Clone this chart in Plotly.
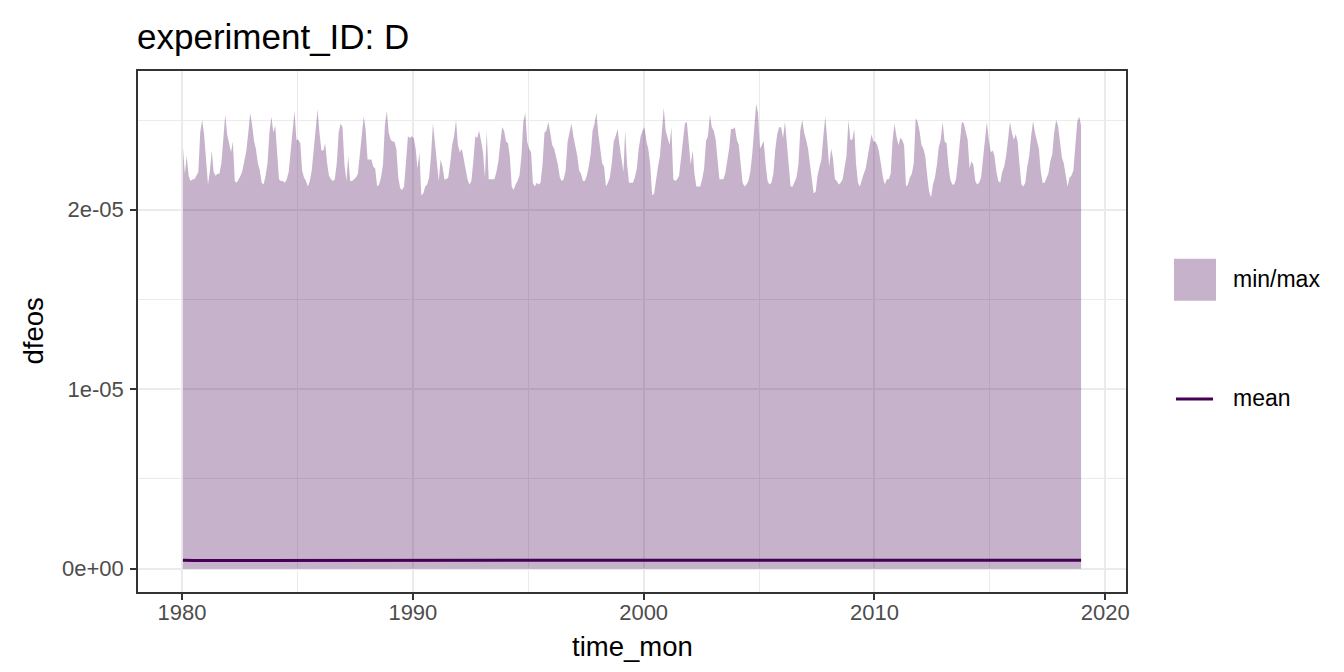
import pandas as pd
import plotly.graph_objects as go

# ---------------- data ----------------
years = list(range(1980, 2019))

# monthly maximum of dfeos, units of 1e-6, one row per year (Jan..Dec)
max_e6 = [
    [23.5, 22.0, 23.0, 21.9, 21.6, 21.7, 21.7, 21.9, 22.1, 24.3, 25.0, 24.2],  # 1980
    [22.5, 21.4, 22.1, 23.3, 22.1, 21.9, 22.0, 22.0, 22.6, 24.0, 25.3, 24.2],  # 1981
    [23.6, 23.2, 23.8, 21.6, 21.5, 21.7, 21.9, 22.2, 22.7, 23.3, 24.3, 25.4],  # 1982
    [24.7, 23.8, 23.4, 22.6, 22.2, 21.5, 21.4, 21.9, 22.6, 24.3, 25.2, 24.3],  # 1983
    [24.7, 23.0, 21.7, 21.6, 21.6, 21.5, 21.7, 22.1, 23.2, 24.1, 25.5, 23.9],  # 1984
    [23.9, 23.7, 22.2, 21.8, 21.6, 21.3, 21.6, 22.2, 23.4, 24.5, 25.6, 24.3],  # 1985
    [23.3, 23.3, 23.7, 22.6, 21.9, 21.7, 21.6, 21.7, 22.6, 24.3, 24.8, 24.6],  # 1986
    [22.5, 21.6, 23.0, 21.6, 21.6, 21.7, 21.8, 22.0, 23.1, 24.5, 25.2, 24.5],  # 1987
    [22.8, 22.8, 22.8, 22.4, 22.3, 21.3, 21.4, 21.8, 22.5, 24.7, 25.5, 24.3],  # 1988
    [23.9, 23.8, 23.8, 23.4, 21.8, 21.2, 21.1, 21.3, 22.5, 24.1, 24.0, 24.1],  # 1989
    [24.0, 23.4, 22.3, 23.2, 20.8, 20.9, 21.3, 21.4, 21.8, 23.0, 24.8, 23.6],  # 1990
    [22.7, 21.6, 22.8, 22.4, 21.7, 21.7, 21.8, 22.6, 23.6, 24.1, 25.0, 23.6],  # 1991
    [23.2, 23.4, 22.8, 22.3, 21.7, 21.4, 21.6, 22.7, 24.1, 24.0, 24.4, 23.85], # 1992
    [23.2, 21.8, 24.4, 21.7, 21.7, 21.7, 21.7, 22.1, 22.7, 23.7, 24.6, 24.4],  # 1993
    [23.8, 23.7, 23.0, 21.3, 21.1, 21.4, 21.6, 21.9, 23.0, 24.9, 25.4, 23.8],  # 1994
    [23.4, 23.2, 21.5, 21.3, 21.5, 21.4, 21.5, 22.5, 24.3, 24.4, 24.9, 24.3],  # 1995
    [23.6, 23.4, 23.0, 22.5, 21.8, 21.6, 21.7, 22.2, 23.8, 24.4, 24.8, 24.1],  # 1996
    [23.6, 23.0, 22.2, 22.0, 21.6, 21.6, 21.9, 22.4, 23.1, 24.4, 24.8, 25.4],  # 1997
    [24.2, 23.4, 22.6, 22.4, 21.3, 21.5, 21.8, 22.6, 23.8, 24.1, 24.5, 23.6],  # 1998
    [22.7, 22.1, 24.4, 22.5, 21.5, 21.5, 21.5, 21.8, 22.3, 23.4, 24.1, 24.4],  # 1999
    [24.6, 23.8, 23.4, 22.5, 20.8, 20.9, 21.8, 22.4, 23.0, 24.5, 25.7, 24.4],  # 2000
    [24.0, 23.6, 24.6, 21.7, 21.6, 21.7, 21.9, 22.8, 24.0, 24.8, 24.9, 23.9],  # 2001
    [22.5, 23.3, 22.0, 21.3, 21.3, 21.3, 21.7, 22.3, 23.85, 24.1, 25.3, 24.6], # 2002
    [24.4, 23.9, 22.8, 21.7, 21.7, 21.7, 22.0, 22.6, 23.4, 24.5, 24.5, 24.6],  # 2003
    [23.9, 23.6, 22.6, 21.5, 21.3, 21.4, 21.6, 22.1, 23.1, 24.3, 25.9, 25.4],  # 2004
    [23.4, 23.6, 23.85, 22.5, 21.6, 21.4, 21.5, 22.0, 23.4, 24.2, 24.6, 24.6], # 2005
    [24.0, 24.9, 23.7, 22.3, 21.3, 21.3, 21.6, 21.8, 22.5, 24.4, 25.0, 24.3],  # 2006
    [23.9, 23.4, 22.6, 21.6, 20.9, 21.0, 21.9, 22.4, 22.8, 24.1, 25.2, 23.9],  # 2007
    [22.4, 23.4, 22.9, 21.7, 21.6, 21.4, 21.5, 21.7, 22.3, 23.0, 25.0, 23.9],  # 2008
    [23.9, 24.5, 22.6, 21.5, 21.3, 21.7, 22.0, 22.3, 22.9, 23.6, 24.2, 23.8],  # 2009
    [23.8, 23.6, 23.2, 22.5, 21.8, 21.4, 21.7, 21.7, 22.0, 23.9, 24.8, 24.1],  # 2010
    [23.6, 24.0, 23.9, 23.6, 21.3, 21.4, 21.8, 22.0, 22.6, 25.1, 24.9, 24.4],  # 2011
    [23.6, 23.4, 23.0, 21.9, 21.0, 20.7, 21.4, 21.8, 22.5, 23.5, 23.9, 24.9],  # 2012
    [23.8, 23.7, 22.5, 21.7, 21.4, 21.4, 21.7, 22.7, 24.0, 24.9, 24.8, 24.4],  # 2013
    [23.9, 22.3, 22.7, 22.5, 21.6, 21.4, 21.5, 21.8, 22.8, 24.0, 24.9, 23.9],  # 2014
    [23.2, 23.3, 23.0, 22.1, 21.6, 21.5, 22.1, 22.4, 23.0, 23.9, 24.9, 24.3],  # 2015
    [23.9, 24.2, 23.8, 22.5, 21.4, 21.3, 21.5, 22.4, 23.0, 24.1, 24.95, 24.3], # 2016
    [23.8, 23.4, 22.2, 21.5, 21.5, 21.8, 22.0, 22.7, 23.1, 24.3, 25.0, 24.7],  # 2017
    [23.9, 22.9, 22.6, 22.0, 21.3, 21.8, 21.9, 22.2, 23.4, 24.9, 25.2, 24.7],  # 2018
]

# monthly mean of dfeos, units of 1e-7
mean_e7 = [
    [4.7, 4.6, 4.6, 4.5, 4.5, 4.5, 4.5, 4.6, 4.6, 4.7, 4.7, 4.7],
    [4.6, 4.6, 4.6, 4.5, 4.5, 4.5, 4.5, 4.6, 4.6, 4.7, 4.7, 4.7],
    [4.7, 4.6, 4.6, 4.5, 4.5, 4.5, 4.5, 4.6, 4.6, 4.7, 4.7, 4.7],
    [4.7, 4.7, 4.6, 4.5, 4.5, 4.5, 4.5, 4.5, 4.6, 4.7, 4.7, 4.7],
    [4.7, 4.6, 4.6, 4.5, 4.5, 4.5, 4.5, 4.5, 4.6, 4.7, 4.7, 4.7],
    [4.7, 4.6, 4.6, 4.5, 4.5, 4.5, 4.5, 4.5, 4.6, 4.7, 4.7, 4.7],
    [4.6, 4.6, 4.6, 4.5, 4.5, 4.5, 4.5, 4.5, 4.6, 4.7, 4.7, 4.7],
    [4.6, 4.6, 4.6, 4.5, 4.5, 4.5, 4.5, 4.5, 4.6, 4.7, 4.7, 4.7],
    [4.6, 4.6, 4.6, 4.5, 4.5, 4.5, 4.5, 4.5, 4.6, 4.7, 4.7, 4.7],
    [4.7, 4.7, 4.6, 4.6, 4.5, 4.5, 4.5, 4.5, 4.5, 4.6, 4.7, 4.7],
    [4.7, 4.6, 4.6, 4.5, 4.4, 4.4, 4.5, 4.5, 4.5, 4.6, 4.7, 4.7],
    [4.6, 4.6, 4.6, 4.5, 4.5, 4.5, 4.5, 4.5, 4.6, 4.7, 4.7, 4.7],
    [4.6, 4.6, 4.6, 4.5, 4.5, 4.5, 4.5, 4.5, 4.6, 4.7, 4.7, 4.7],
    [4.6, 4.6, 4.6, 4.5, 4.5, 4.5, 4.5, 4.5, 4.5, 4.6, 4.7, 4.7],
    [4.7, 4.7, 4.6, 4.5, 4.5, 4.5, 4.5, 4.5, 4.6, 4.7, 4.7, 4.7],
    [4.6, 4.6, 4.5, 4.5, 4.5, 4.5, 4.5, 4.5, 4.6, 4.7, 4.7, 4.7],
    [4.7, 4.6, 4.6, 4.5, 4.5, 4.5, 4.5, 4.5, 4.6, 4.7, 4.7, 4.7],
    [4.7, 4.6, 4.6, 4.5, 4.5, 4.5, 4.5, 4.5, 4.6, 4.7, 4.7, 4.7],
    [4.7, 4.6, 4.6, 4.5, 4.5, 4.5, 4.5, 4.5, 4.6, 4.7, 4.7, 4.7],
    [4.6, 4.6, 4.6, 4.5, 4.5, 4.5, 4.5, 4.5, 4.5, 4.6, 4.7, 4.7],
    [4.7, 4.7, 4.6, 4.5, 4.4, 4.4, 4.5, 4.5, 4.6, 4.7, 4.7, 4.7],
    [4.7, 4.6, 4.6, 4.5, 4.5, 4.5, 4.5, 4.5, 4.6, 4.7, 4.7, 4.7],
    [4.6, 4.6, 4.6, 4.5, 4.5, 4.5, 4.5, 4.5, 4.6, 4.7, 4.7, 4.7],
    [4.7, 4.7, 4.6, 4.5, 4.5, 4.5, 4.5, 4.5, 4.6, 4.7, 4.7, 4.7],
    [4.7, 4.6, 4.6, 4.5, 4.5, 4.5, 4.5, 4.5, 4.6, 4.7, 4.8, 4.7],
    [4.6, 4.6, 4.6, 4.5, 4.5, 4.5, 4.5, 4.5, 4.6, 4.7, 4.7, 4.7],
    [4.7, 4.7, 4.6, 4.5, 4.5, 4.5, 4.5, 4.5, 4.5, 4.7, 4.7, 4.7],
    [4.7, 4.6, 4.6, 4.5, 4.4, 4.4, 4.5, 4.5, 4.5, 4.6, 4.7, 4.7],
    [4.6, 4.6, 4.6, 4.5, 4.5, 4.5, 4.5, 4.5, 4.5, 4.6, 4.7, 4.7],
    [4.7, 4.7, 4.6, 4.5, 4.5, 4.5, 4.5, 4.5, 4.5, 4.6, 4.7, 4.7],
    [4.7, 4.6, 4.6, 4.5, 4.5, 4.5, 4.5, 4.5, 4.5, 4.7, 4.7, 4.7],
    [4.6, 4.7, 4.6, 4.6, 4.5, 4.5, 4.5, 4.5, 4.5, 4.7, 4.7, 4.7],
    [4.6, 4.6, 4.6, 4.5, 4.4, 4.4, 4.5, 4.5, 4.5, 4.6, 4.7, 4.7],
    [4.7, 4.7, 4.6, 4.5, 4.5, 4.5, 4.5, 4.5, 4.6, 4.7, 4.7, 4.7],
    [4.7, 4.6, 4.6, 4.5, 4.5, 4.5, 4.5, 4.5, 4.5, 4.7, 4.7, 4.7],
    [4.6, 4.6, 4.6, 4.5, 4.5, 4.5, 4.5, 4.5, 4.5, 4.6, 4.7, 4.7],
    [4.7, 4.7, 4.6, 4.5, 4.5, 4.5, 4.5, 4.5, 4.5, 4.7, 4.7, 4.7],
    [4.7, 4.6, 4.6, 4.5, 4.5, 4.5, 4.5, 4.5, 4.6, 4.7, 4.7, 4.7],
    [4.7, 4.6, 4.6, 4.5, 4.5, 4.5, 4.5, 4.5, 4.6, 4.7, 4.7, 4.7],
]

# yearly minimum of dfeos (essentially zero)
min_by_year = [0.0, 0.0, 0.0, 0.0, 0.0, 0.0, 0.0, 0.0, 0.0, 0.0,
               0.0, 0.0, 0.0, 0.0, 0.0, 0.0, 0.0, 0.0, 0.0, 0.0,
               0.0, 0.0, 0.0, 0.0, 0.0, 0.0, 0.0, 0.0, 0.0, 0.0,
               0.0, 0.0, 0.0, 0.0, 0.0, 0.0, 0.0, 0.0, 0.0]

x_tick_years = [1980, 1990, 2000, 2010, 2020]
x_minor_years = [1985, 1995, 2005, 2015]
y_tick_vals = [0.0, 1e-05, 2e-05]
y_tick_text = ["0e+00", "1e-05", "2e-05"]
y_minor_vals = [5e-06, 1.5e-05, 2.5e-05]

title_text = "experiment_ID: D"
x_title = "time_mon"
y_title = "dfeos"
legend_labels = ["min/max", "mean"]

# ---------------- build series ----------------
dates = []
vmax = []
vmean = []
vmin = []
for yi, yr in enumerate(years):
    for m in range(12):
        dates.append(pd.Timestamp(year=yr, month=m + 1, day=15))
        vmax.append(max_e6[yi][m] * 1e-6)
        vmean.append(mean_e7[yi][m] * 1e-7)
        vmin.append(min_by_year[yi])

FILL = "rgba(68,1,84,0.3)"
LINE = "#440154"
FONT = "Liberation Sans, Arial, Helvetica, sans-serif"

fig = go.Figure()
fig.add_trace(go.Scatter(x=dates, y=vmin, mode="lines", line=dict(width=0, color=FILL),
                         showlegend=False, hoverinfo="skip"))
fig.add_trace(go.Scatter(x=dates, y=vmax, mode="lines", line=dict(width=0, color=FILL),
                         fill="tonexty", fillcolor=FILL, showlegend=False, name="min/max"))
fig.add_trace(go.Scatter(x=dates, y=vmean, mode="lines", line=dict(width=3, color=LINE),
                         showlegend=False, name="mean"))

# ggplot-like 5% expansion on x
span = dates[-1] - dates[0]
x0 = dates[0] - span * 0.05
x1 = dates[-1] + span * 0.05

# layout geometry (pixels)
W, H = 1344, 672
ML, MR, MT, MB = 130, 226, 63, 88
PW = W - ML - MR
PH = H - MT - MB


def px_x(p):
    return (p - ML) / PW


def px_y(p):
    return (H - MB - p) / PH


GRID = "#EBEBEB"
AX = "#333333"

fig.update_layout(
    width=W, height=H,
    margin=dict(l=ML, r=MR, t=MT, b=MB, pad=0),
    paper_bgcolor="white", plot_bgcolor="white",
    font=dict(family=FONT, color="black"),
    showlegend=False,
    xaxis=dict(
        type="date", range=[x0, x1],
        tickvals=[pd.Timestamp(year=y, month=1, day=1) for y in x_tick_years],
        ticktext=[str(y) for y in x_tick_years],
        showgrid=True, gridcolor=GRID, gridwidth=2,
        minor=dict(tickvals=[pd.Timestamp(year=y, month=1, day=1) for y in x_minor_years],
                   showgrid=True, gridcolor=GRID, gridwidth=1, ticklen=0),
        ticks="outside", ticklen=6, tickwidth=1.6, tickcolor=AX,
        tickfont=dict(size=22, color="#4D4D4D", family=FONT),
        ticklabelstandoff=-6,
        showline=True, linecolor=AX, linewidth=1.6, mirror=True,
        zeroline=False,
    ),
    yaxis=dict(
        range=[-1.30e-6, 27.73e-6],
        tickvals=y_tick_vals, ticktext=y_tick_text,
        showgrid=True, gridcolor=GRID, gridwidth=2,
        minor=dict(tickvals=y_minor_vals, showgrid=True, gridcolor=GRID, gridwidth=1, ticklen=0),
        ticks="outside", ticklen=6, tickwidth=1.6, tickcolor=AX,
        tickfont=dict(size=22, color="#4D4D4D", family=FONT),
        ticklabelstandoff=2,
        showline=True, linecolor=AX, linewidth=1.6, mirror=True,
        zeroline=False,
    ),
)

ann = []
ann.append(dict(text=title_text, x=px_x(127), y=px_y(29), xref="paper", yref="paper",
                xanchor="left", yanchor="middle", showarrow=False,
                font=dict(size=35, color="black", family=FONT)))
ann.append(dict(text=x_title, x=0.5, y=px_y(638), xref="paper", yref="paper",
                xanchor="center", yanchor="middle", showarrow=False,
                font=dict(size=27.5, color="black", family=FONT)))
ann.append(dict(text=y_title, x=px_x(25), y=0.5, xref="paper", yref="paper",
                xanchor="center", yanchor="middle", showarrow=False, textangle=-90,
                font=dict(size=27.5, color="black", family=FONT)))
# legend (drawn manually, ggplot style)
ann.append(dict(text=legend_labels[0], x=px_x(1223), y=px_y(271), xref="paper", yref="paper",
                xanchor="left", yanchor="middle", showarrow=False,
                font=dict(size=23, color="black", family=FONT)))
ann.append(dict(text=legend_labels[1], x=px_x(1223), y=px_y(390), xref="paper", yref="paper",
                xanchor="left", yanchor="middle", showarrow=False,
                font=dict(size=23, color="black", family=FONT)))
fig.update_layout(annotations=ann)

fig.add_shape(type="rect", xref="paper", yref="paper",
              x0=px_x(1166), x1=px_x(1208), y0=px_y(292.7), y1=px_y(250.7),
              fillcolor=FILL, line=dict(width=0))
fig.add_shape(type="line", xref="paper", yref="paper",
              x0=px_x(1168), x1=px_x(1205), y0=px_y(391), y1=px_y(391),
              line=dict(color=LINE, width=3))

fig.write_html("out.html")
